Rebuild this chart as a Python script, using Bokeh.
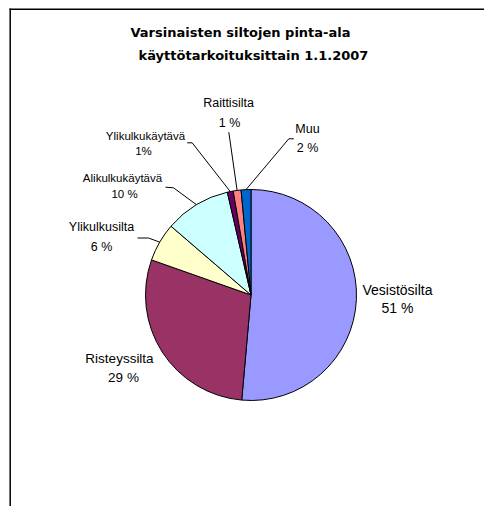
import math
from bokeh.plotting import figure
from bokeh.models import Range1d, ColumnDataSource
from bokeh.core.properties import value
from bokeh.embed import file_html
from bokeh.resources import INLINE

# ---- data ----
categories = ["Vesistösilta", "Risteyssilta", "Ylikulkusilta", "Alikulkukäytävä",
              "Ylikulkukäytävä", "Raittisilta", "Muu"]
shares = [51.4, 29.0, 5.9, 10.1, 0.9, 1.2, 1.5]
pct_labels = ["51 %", "29 %", "6 %", "10 %", "1%", "1 %", "2 %"]
colors = ["#9999FF", "#993366", "#FFFFCC", "#CCFFFF", "#660066", "#FF8080", "#0066CC"]
title_lines = ["Varsinaisten siltojen pinta-ala", "käyttötarkoituksittain 1.1.2007"]

# ---- layout (page pixel coordinates) ----
W, H = 484, 506
def X(px): return px
def Y(py): return H - py

CX, CY, R = 250.5, 294.5, 105.5
# label centres: (name line, pct line)
label_pos = [((397, 289), (397, 307)),
             ((119, 358), (123, 377)),
             ((101, 226), (101, 246)),
             ((122, 177), (124, 193)),
             ((145, 135), (143, 150)),
             ((228, 102), (229, 122)),
             ((307, 128), (307, 147))]
label_size = ["14px", "13.5px", "12.5px", "11.5px", "11.5px", "12.5px", "12.5px"]
# leader line points near label (None = no leader)
leader_pts = [None, None,
              [(137, 237.5), (148, 237.5)],
              [(165, 186.7), (173, 187.3)],
              [(186.7, 142.3), (191.7, 142.3)],
              [(228.3, 131.7)],
              [(293.3, 138.3), (288.3, 138.3)]]

p = figure(width=W, height=H, x_range=Range1d(0, W), y_range=Range1d(0, H),
           output_backend="svg", toolbar_location=None,
           x_axis_location=None, y_axis_location=None, min_border=0)
p.outline_line_color = None
p.grid.visible = False
p.background_fill_color = "white"
p.border_fill_color = "white"

# frame (top and left edges of chart area)
p.line(x=[X(9), X(484)], y=[Y(8.7), Y(8.7)], line_color="black", line_width=1.5)
p.line(x=[X(9.7), X(9.7)], y=[Y(8), Y(506)], line_color="black", line_width=1.5)

# pie
total = sum(shares)
starts, ends, mids = [], [], []
cum = 0.0
for s in shares:
    a0 = cum / total * 2 * math.pi
    cum += s
    a1 = cum / total * 2 * math.pi
    starts.append(a0); ends.append(a1); mids.append((a0 + a1) / 2)
# clockwise from 12 o'clock -> bokeh anticlockwise math angles
src = ColumnDataSource(dict(
    start=[math.pi / 2 - e for e in ends],
    end=[math.pi / 2 - s for s in starts],
    color=colors))
p.wedge(x=X(CX), y=Y(CY), radius=R, radius_units="screen",
        start_angle="start", end_angle="end", direction="anticlock",
        fill_color="color", line_color="black", line_width=1, source=src)

# leader lines
xs, ys = [], []
for i, pts in enumerate(leader_pts):
    if pts is None:
        continue
    ex = CX + R * math.sin(mids[i])
    ey = CY - R * math.cos(mids[i])
    allp = pts + [(ex, ey)]
    xs.append([X(a) for a, b in allp]); ys.append([Y(b) for a, b in allp])
p.multi_line(xs=xs, ys=ys, line_color="black", line_width=1)

# labels
for i, cat in enumerate(categories):
    (nx, ny), (qx, qy) = label_pos[i]
    p.text(x=[X(nx)], y=[Y(ny)], text=[cat], text_align="center", text_baseline="middle",
           text_font=value("Liberation Sans"), text_font_size=label_size[i], text_color="black")
    p.text(x=[X(qx)], y=[Y(qy)], text=[pct_labels[i]], text_align="center", text_baseline="middle",
           text_font=value("Liberation Sans"), text_font_size=label_size[i], text_color="black")

# title
for (tx, ty), t in zip([(240, 32), (253, 55)], title_lines):
    p.text(x=[X(tx)], y=[Y(ty)], text=[t], text_align="center", text_baseline="middle",
           text_font=value("DejaVu Sans"), text_font_style="bold",
           text_font_size="13px", text_color="black")

open("out.html", "w").write(file_html(p, INLINE))
